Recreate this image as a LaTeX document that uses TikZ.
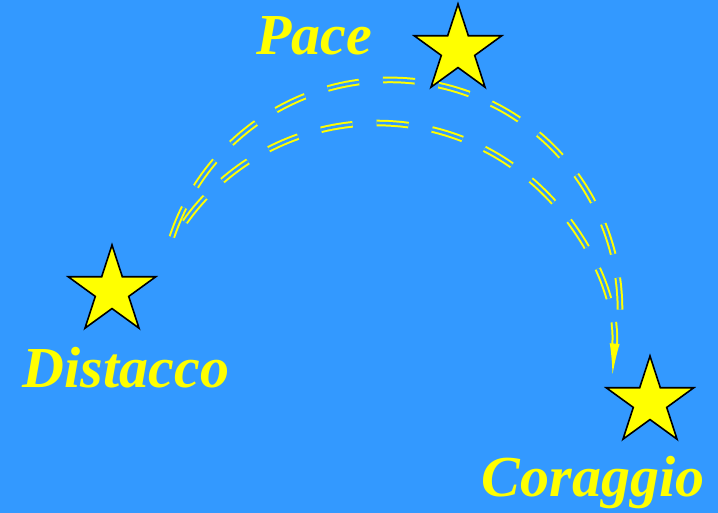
\documentclass[tikz,border=0pt]{standalone}
\usepackage{fontspec}
\setmainfont{Liberation Serif}
\usepackage{tikz}
\usetikzlibrary{positioning, arrows.meta, shapes.geometric}
\definecolor{Cielo}{RGB}{51,153,255}
\definecolor{Giallo}{RGB}{255,255,0}

\begin{document}
\begin{tikzpicture}[
  x=1pt, y=1pt,
  stella/.style={
    star, star points=5, star point ratio=2.618,
    draw=black, fill=Giallo, line width=1.6pt,
    minimum size=92pt, inner sep=0pt
  },
  parola/.style={
    text=Giallo,
    font=\fontsize{58}{62}\selectfont\bfseries\itshape,
    inner sep=0pt
  },
  scia/.style={
    draw=Giallo, double=Cielo, double distance=2.6pt,
    line width=2pt, dash pattern=on 32pt off 24pt
  }
]
\fill[Cielo] (0,0) rectangle (718,513);
\useasboundingbox (0,0) rectangle (718,513);

% stelle
\node[stella] (dstar) at (112,222) {};
\node[stella] (pstar) at (458,463) {};
\node[stella] (cstar) at (650,111) {};

% parole
\node[parola, below right=97pt and 14pt of dstar.center, anchor=base] (distacco) {Distacco};
\node[parola, below left=5pt and 144pt of pstar.center, anchor=base]  (pace)     {Pace};
\node[parola, below left=95pt and 57pt of cstar.center, anchor=base]  (coraggio) {Coraggio};

% archi
\coordinate (outerstart) at (171.9,276.0);
\coordinate (innerstart) at (184.9,291.0);
\draw[scia] (outerstart) arc[start angle=161.5, end angle=-0.5, radius=230];
\draw[scia, -{Latex[length=32pt, width=10pt]}] (innerstart)
  arc[start angle=144.5, end angle=-4, radius=236];
\end{tikzpicture}
\end{document}
